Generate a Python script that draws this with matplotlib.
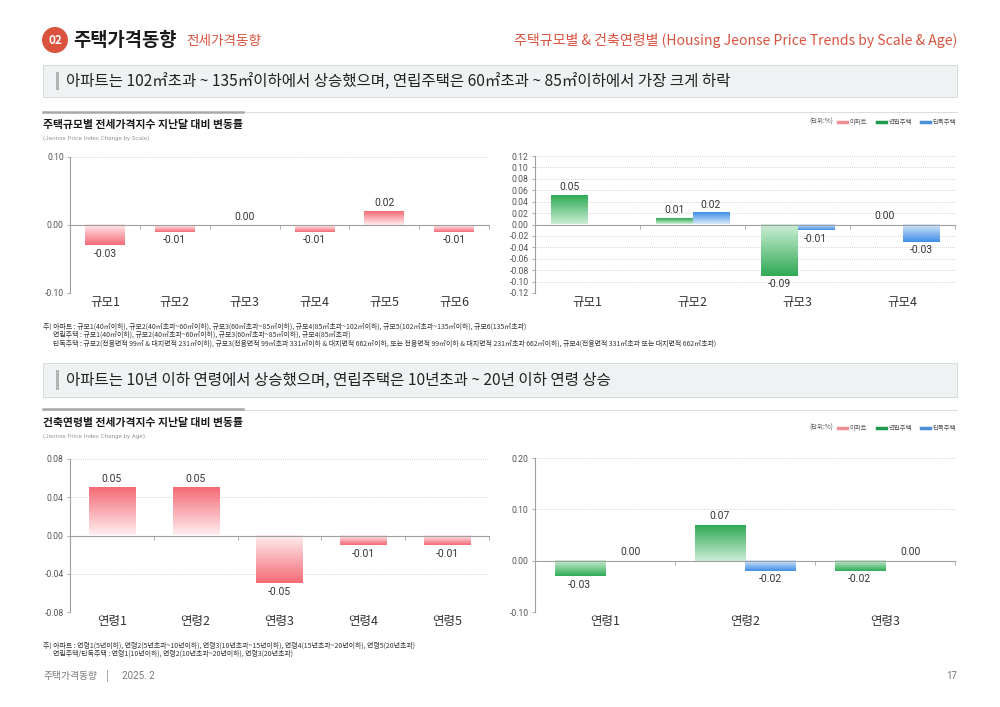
import numpy as np
import matplotlib
matplotlib.use('Agg')
import matplotlib.pyplot as plt
from matplotlib.patches import Rectangle, Ellipse
from matplotlib.lines import Line2D
from matplotlib.colors import to_rgb
import matplotlib.transforms as mtrans

plt.rcParams['font.family'] = ['Noto Sans CJK KR', 'DejaVu Sans']

# ---------------- data ----------------
scale_apt_labels = ['규모1', '규모2', '규모3', '규모4', '규모5', '규모6']
scale_apt = [-0.03, -0.01, 0.00, -0.01, 0.02, -0.01]
scale_apt_ticks = [-0.10, 0.00, 0.10]

scale_other_labels = ['규모1', '규모2', '규모3', '규모4']
scale_rowhouse = [0.05, 0.01, -0.09, 0.00]
scale_detached = [np.nan, 0.02, -0.01, -0.03]
scale_other_ticks = [-0.12, -0.10, -0.08, -0.06, -0.04, -0.02, 0.00,
                     0.02, 0.04, 0.06, 0.08, 0.10, 0.12]

age_apt_labels = ['연령1', '연령2', '연령3', '연령4', '연령5']
age_apt = [0.05, 0.05, -0.05, -0.01, -0.01]
age_apt_ticks = [-0.08, -0.04, 0.00, 0.04, 0.08]

age_other_labels = ['연령1', '연령2', '연령3']
age_rowhouse = [-0.03, 0.07, -0.02]
age_detached = [0.00, -0.02, 0.00]
age_other_ticks = [-0.10, 0.00, 0.10, 0.20]

legend_names = ['아파트', '연립주택', '단독주택']

RED = ('#f46a75', '#ffeef0')
GREEN = ('#2faa55', '#cdeed6')
BLUE = ('#3f8ee6', '#d9e9fb')
LEG_COLORS = ['#ef8e95', '#1f9a4f', '#4a90d9']
ACCENT = '#d9533f'

W, H = 1000, 707
fig = plt.figure(figsize=(10, 7.07), dpi=100)


def fx(px):
    return px / W


def fy(py):
    return 1 - py / H


def gradient_bars(ax, bars, values, colors):
    strong = np.array(to_rgb(colors[0]))
    pale = np.array(to_rgb(colors[1]))
    t = np.linspace(0, 1, 128)
    for b, v in zip(bars, values):
        if np.isnan(v) or v == 0:
            b.set_visible(False)
            continue
        x0, w = b.get_x(), b.get_width()
        y0, y1 = sorted([b.get_y(), b.get_y() + b.get_height()])
        tt = t if v > 0 else t[::-1]
        img = pale[None, :] * (1 - tt[:, None]) + strong[None, :] * tt[:, None]
        img = img[:, None, :]
        ax.imshow(img, extent=[x0, x0 + w, y0, y1], origin='lower',
                  aspect='auto', zorder=2, interpolation='bilinear')
        b.set_visible(False)


def value_labels(ax, xs, values):
    for x, v in zip(xs, values):
        if np.isnan(v):
            continue
        if v >= 0:
            ax.annotate(f'{v:.2f}', (x, v), xytext=(0, 2.5), textcoords='offset points',
                        ha='center', va='bottom', fontsize=7.4, color='#333333',
                        family=['Roboto', 'DejaVu Sans'], zorder=5)
        else:
            ax.annotate(f'{v:.2f}', (x, v), xytext=(0, -2.5), textcoords='offset points',
                        ha='center', va='top', fontsize=7.4, color='#333333',
                        family=['Roboto', 'DejaVu Sans'], zorder=5)


def style_axes(ax, yticks, labels, cat_fs=9):
    n = len(labels)
    ax.set_xlim(-0.5, n - 0.5)
    ax.set_ylim(yticks[0], yticks[-1])
    ax.set_yticks(yticks)
    ax.set_yticklabels([f'{t:.2f}' for t in yticks], family=['Roboto', 'DejaVu Sans'])
    for s in ['top', 'right']:
        ax.spines[s].set_visible(False)
    ax.spines['bottom'].set_position(('data', 0))
    ax.spines['bottom'].set_color('#a0a0a0')
    ax.spines['bottom'].set_linewidth(0.8)
    ax.spines['bottom'].set_zorder(3)
    ax.spines['left'].set_color('#a0a0a0')
    ax.spines['left'].set_linewidth(0.8)
    ax.set_xticks(np.arange(n + 1) - 0.5)
    ax.set_xticklabels([])
    ax.tick_params(axis='x', direction='out', length=3, color='#a0a0a0', width=0.6)
    ax.tick_params(axis='y', length=2.5, color='#a0a0a0', width=0.6,
                   labelsize=6.2, labelcolor='#555555', pad=2)
    ax.grid(axis='y', linestyle=(0, (1, 1.5)), color='#c4c4c4', lw=0.6)
    ax.set_axisbelow(True)
    trans = mtrans.blended_transform_factory(ax.transData, ax.transAxes)
    for i, lab in enumerate(labels):
        ax.annotate(lab, (i, 0), xycoords=trans, xytext=(0, -2.5),
                    textcoords='offset points', ha='center', va='top',
                    fontsize=cat_fs, color='#333333')
    ax.patch.set_alpha(0)


def single_chart(rect, labels, values, yticks, colors, width):
    ax = fig.add_axes(rect)
    x = np.arange(len(labels))
    bars = ax.bar(x, values, width=width)
    gradient_bars(ax, bars, values, colors)
    value_labels(ax, x, values)
    style_axes(ax, yticks, labels)
    return ax


def double_chart(rect, labels, v1, v2, yticks, width):
    ax = fig.add_axes(rect)
    x = np.arange(len(labels))
    b1 = ax.bar(x - width / 2, v1, width=width)
    b2 = ax.bar(x + width / 2, v2, width=width)
    gradient_bars(ax, b1, v1, GREEN)
    gradient_bars(ax, b2, v2, BLUE)
    value_labels(ax, x - width / 2, v1)
    value_labels(ax, x + width / 2, v2)
    style_axes(ax, yticks, labels)
    return ax


def axes_rect(x0, x1, y0, y1):
    return [fx(x0), fy(y1), (x1 - x0) / W, (y1 - y0) / H]


# ---------------- header ----------------
fig.add_artist(Ellipse((fx(55), fy(40)), 26 / W, 26 / H, transform=fig.transFigure,
                       facecolor=ACCENT, edgecolor='none'))
fig.text(fx(55), fy(40.5), '02', ha='center', va='center', color='white',
         fontsize=8.5, fontweight='bold')
fig.text(fx(73), fy(40), '주택가격동향', ha='left', va='center', fontsize=13.5,
         fontweight='bold', color='#1a1a1a')
fig.text(fx(186), fy(41), '전세가격동향', ha='left', va='center', fontsize=9.8,
         color=ACCENT, fontweight='medium')
fig.text(fx(957), fy(41), '주택규모별 & 건축연령별 (Housing Jeonse Price Trends by Scale & Age)',
         ha='right', va='center', fontsize=10.1, color=ACCENT, fontweight='medium')


def section_box(y0, y1, text):
    fig.add_artist(Rectangle((fx(43), fy(y1)), (957 - 43) / W, (y1 - y0) / H,
                             transform=fig.transFigure, facecolor='#eef2f3',
                             edgecolor='#d6dbdc', lw=0.7))
    fig.add_artist(Rectangle((fx(56), fy(y1 - 7)), 3 / W, (y1 - y0 - 14) / H,
                             transform=fig.transFigure, facecolor='#b4b4b4',
                             edgecolor='none'))
    fig.text(fx(66), fy((y0 + y1) / 2), text, ha='left', va='center',
             fontsize=11.2, color='#222222', fontweight='medium')


def chart_header(y_line, title, subtitle):
    fig.add_artist(Line2D([fx(43), fx(957)], [fy(y_line), fy(y_line)],
                          transform=fig.transFigure, color='#dcdcdc', lw=0.8))
    fig.add_artist(Line2D([fx(43), fx(243)], [fy(y_line - 0.5), fy(y_line - 0.5)],
                          transform=fig.transFigure, color='#a8a8a8', lw=1.8))
    fig.text(fx(43), fy(y_line + 13), title, ha='left', va='center', fontsize=7.8,
             fontweight='bold', color='#1a1a1a')
    fig.text(fx(43), fy(y_line + 26), subtitle, ha='left', va='center', fontsize=4.6,
             color='#9a9a9a', family=['Roboto', 'DejaVu Sans'])


def unit_legend(y):
    handles = [Line2D([], [], color=c, lw=2.5) for c in LEG_COLORS]
    fig.legend(handles, legend_names, loc='center right',
               bbox_to_anchor=(fx(962), fy(y)), ncol=3, frameon=False,
               fontsize=4.6, handlelength=1.4, handletextpad=0.4,
               columnspacing=1.5, labelcolor='#555555')
    fig.text(fx(833), fy(y), '(단위:%)', ha='right', va='center', fontsize=4.6,
             color='#555555')


# ---------------- section 1 ----------------
section_box(65, 97, '아파트는 102㎡초과 ~ 135㎡이하에서 상승했으며, 연립주택은 60㎡초과 ~ 85㎡이하에서 가장 크게 하락')
chart_header(112, '주택규모별 전세가격지수 지난달 대비 변동률', '(Jeonse Price Index Change by Scale)')
unit_legend(122)

single_chart(axes_rect(70, 489, 157, 293), scale_apt_labels, scale_apt,
             scale_apt_ticks, RED, 0.57)
double_chart(axes_rect(535, 955, 156, 293), scale_other_labels, scale_rowhouse,
             scale_detached, scale_other_ticks, 0.35)

note_fs = 5.0
fig.text(fx(43), fy(327), '주) 아파트 : 규모1(40㎡이하), 규모2(40㎡초과~60㎡이하), 규모3(60㎡초과~85㎡이하), 규모4(85㎡초과~102㎡이하), 규모5(102㎡초과~135㎡이하), 규모6(135㎡초과)',
         ha='left', va='center', fontsize=note_fs, color='#333333')
fig.text(fx(53), fy(335), '연립주택 : 규모1(40㎡이하), 규모2(40㎡초과~60㎡이하), 규모3(60㎡초과~85㎡이하), 규모4(85㎡초과)',
         ha='left', va='center', fontsize=note_fs, color='#333333')
fig.text(fx(53), fy(343.5), '단독주택 : 규모2(전용면적 99㎡ & 대지면적 231㎡이하), 규모3(전용면적 99㎡초과 331㎡이하 & 대지면적 662㎡이하, 또는 전용면적 99㎡이하 & 대지면적 231㎡초과 662㎡이하), 규모4(전용면적 331㎡초과 또는 대지면적 662㎡초과)',
         ha='left', va='center', fontsize=note_fs, color='#333333')

# ---------------- section 2 ----------------
section_box(363, 397, '아파트는 10년 이하 연령에서 상승했으며, 연립주택은 10년초과 ~ 20년 이하 연령 상승')
chart_header(410, '건축연령별 전세가격지수 지난달 대비 변동률', '(Jeonse Price Index Change by Age)')
unit_legend(428)

single_chart(axes_rect(70, 489, 459, 612), age_apt_labels, age_apt,
             age_apt_ticks, RED, 0.55)
double_chart(axes_rect(535, 955, 458, 612), age_other_labels, age_rowhouse,
             age_detached, age_other_ticks, 0.36)

fig.text(fx(43), fy(646), '주) 아파트 : 연령1(5년이하), 연령2(5년초과~10년이하), 연령3(10년초과~15년이하), 연령4(15년초과~20년이하), 연령5(20년초과)',
         ha='left', va='center', fontsize=note_fs, color='#333333')
fig.text(fx(53), fy(654), '연립주택/단독주택 : 연령1(10년이하), 연령2(10년초과~20년이하), 연령3(20년초과)',
         ha='left', va='center', fontsize=note_fs, color='#333333')

# ---------------- footer ----------------
fig.text(fx(43), fy(676), '주택가격동향', ha='left', va='center',
         fontsize=7, color='#777777')
fig.text(fx(107), fy(676), '|', ha='center', va='center',
         fontsize=7, color='#777777')
fig.text(fx(122), fy(676), '2025. 2', ha='left', va='center',
         fontsize=7, color='#777777', family=['Roboto', 'DejaVu Sans'])
fig.text(fx(957), fy(676), '17', ha='right', va='center', fontsize=7, color='#777777',
         family=['Roboto', 'DejaVu Sans'])

fig.savefig('out.png', dpi=100)
